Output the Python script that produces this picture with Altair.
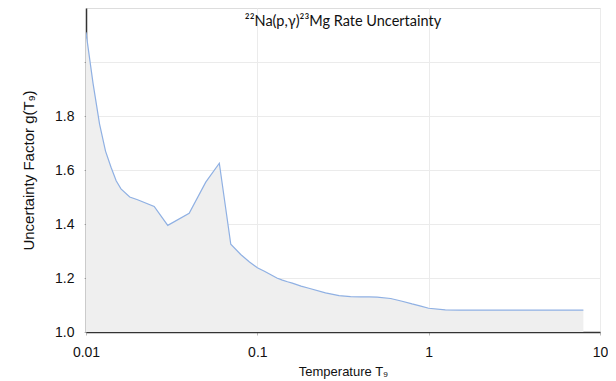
import altair as alt
import pandas as pd

# Temperature grid (T9) and uncertainty factor g(T9)
temperature = [0.01, 0.011, 0.012, 0.013, 0.014, 0.015, 0.016, 0.018, 0.02, 0.025,
               0.03, 0.04, 0.05, 0.06, 0.07, 0.08, 0.09, 0.1, 0.11, 0.12, 0.13,
               0.14, 0.15, 0.16, 0.18, 0.2, 0.25, 0.3, 0.35, 0.4, 0.45, 0.5, 0.6,
               0.7, 0.8, 0.9, 1.0, 1.25, 1.5, 1.75, 2.0, 2.5, 3.0, 3.5, 4.0, 5.0,
               6.0, 7.0, 8.0]
factor = [2.11, 1.92, 1.77, 1.67, 1.61, 1.56, 1.53, 1.50, 1.49, 1.465,
          1.395, 1.44, 1.555, 1.625, 1.325, 1.287, 1.259, 1.238, 1.225, 1.212, 1.20,
          1.192, 1.186, 1.181, 1.17, 1.162, 1.145, 1.135, 1.131, 1.130, 1.130, 1.129, 1.124,
          1.114, 1.104, 1.096, 1.088, 1.082, 1.081, 1.081, 1.081, 1.081, 1.081, 1.081, 1.081, 1.081,
          1.081, 1.081, 1.081]

x_ticks = [0.01, 0.1, 1, 10]
y_ticks = [1.0, 1.2, 1.4, 1.6, 1.8, 2.0]

df = pd.DataFrame({"T": temperature, "g": factor})

FONT = "Liberation Sans"

x = alt.X("T:Q",
          scale=alt.Scale(type="log", domain=[0.01, 10]),
          axis=alt.Axis(values=x_ticks, format="~g", title="Temperature T₉",
                        labelFontSize=14, titleFontSize=13, titleFontWeight="normal",
                        labelFont=FONT, titleFont=FONT, labelColor="#111", titleColor="#111",
                        labelPadding=10, titlePadding=6,
                        domainColor="#333", domainWidth=1.5,
                        tickColor="#bbb", tickSize=3,
                        gridColor="#ebebeb", labelFlush=False))
y = alt.Y("g:Q",
          scale=alt.Scale(domain=[1.0, 2.2], zero=False, nice=False),
          axis=alt.Axis(values=y_ticks, title="Uncertainty Factor g(T₉)",
                        labelExpr="datum.value > 1.95 ? '' : format(datum.value, '.1f')",
                        labelFontSize=14, titleFontSize=15, titleFontWeight="normal",
                        labelFont=FONT, titleFont=FONT, labelColor="#111", titleColor="#111",
                        labelPadding=10, titlePadding=18,
                        domainColor="#333", domainWidth=1.5,
                        tickColor="#bbb", tickSize=2,
                        gridColor="#ebebeb"))

area = alt.Chart(df).mark_area(color="#efefef", opacity=1, clip=True).encode(x=x, y=y)
line = alt.Chart(df).mark_line(color="#8fb0e3", strokeWidth=1.2, clip=True).encode(x="T:Q", y="g:Q")

chart = (area + line).properties(
    width=514, height=324,
    title=alt.TitleParams("²²Na(p,γ)²³Mg Rate Uncertainty", font="Lato", fontSize=14.5,
                          fontWeight="normal", color="#111", anchor="middle",
                          offset=0, dy=21),
    autosize=alt.AutoSizeParams(type="none"),
    padding={"left": 78, "top": 0, "right": 8, "bottom": 49},
).configure_view(fill="#fafafa", stroke="#555", strokeWidth=1.5
).configure(background="white")

chart.save("out.html", embed_options={"renderer": "svg", "actions": False})
